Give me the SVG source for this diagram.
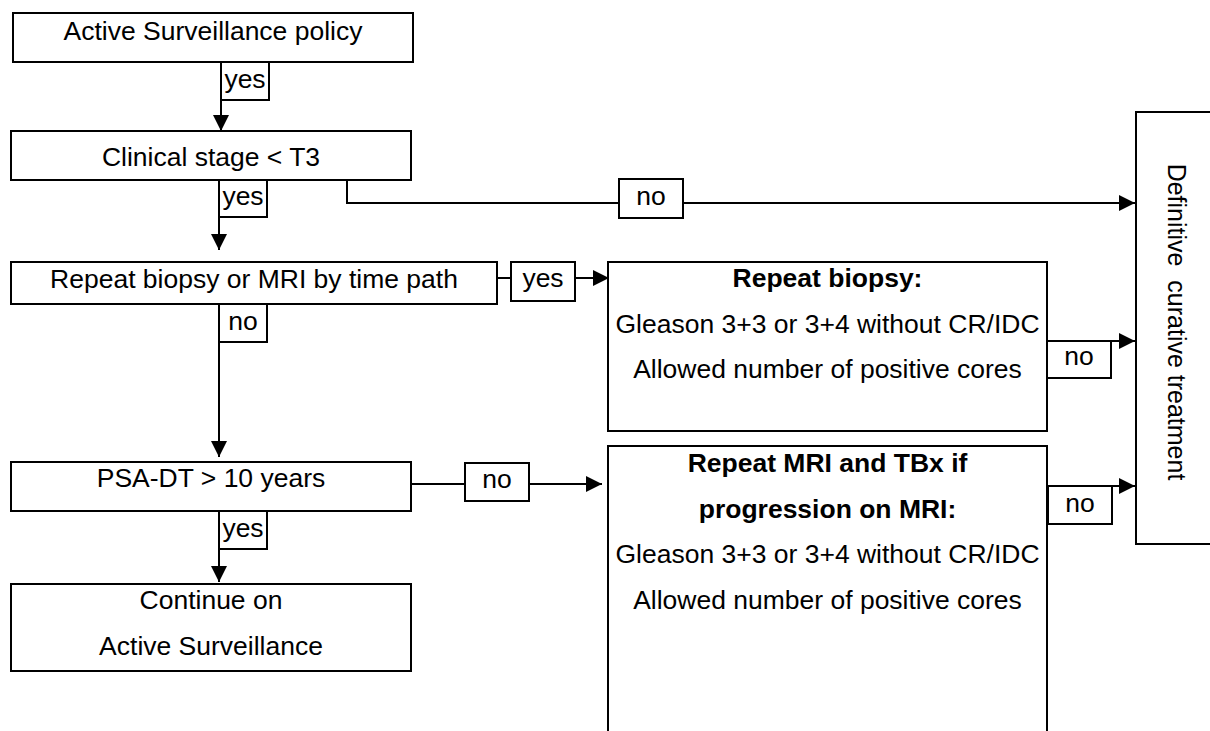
<svg xmlns="http://www.w3.org/2000/svg" width="1210" height="731" viewBox="0 0 1210 731">
<defs>
<style>
.box{fill:#fff;stroke:#000;stroke-width:2}
.lbl{fill:#fff;stroke:#000;stroke-width:2}
.ln{fill:none;stroke:#000;stroke-width:2}
text{font-family:"Liberation Sans",Arial,sans-serif;font-size:25px;fill:#000;text-anchor:middle}
.b{font-weight:bold}
</style>
<marker id="arr" markerUnits="userSpaceOnUse" markerWidth="16" markerHeight="16" refX="16" refY="8" orient="auto">
<path d="M0,0 L16,8 L0,16 z" fill="#000"/>
</marker>
</defs>
<rect width="1210" height="731" fill="#fff"/>

<g id="connectors">
<line class="ln" x1="221" y1="62" x2="221" y2="131" marker-end="url(#arr)"/>
<line class="ln" x1="219" y1="180" x2="219" y2="250" marker-end="url(#arr)"/>
<polyline class="ln" points="347,180 347,203 1135,203" marker-end="url(#arr)"/>
<line class="ln" x1="497" y1="278" x2="609" y2="278" marker-end="url(#arr)"/>
<line class="ln" x1="219" y1="304" x2="219" y2="457" marker-end="url(#arr)"/>
<line class="ln" x1="411" y1="484" x2="602" y2="484" marker-end="url(#arr)"/>
<line class="ln" x1="219" y1="511" x2="219" y2="582" marker-end="url(#arr)"/>
<line class="ln" x1="1047" y1="341" x2="1135" y2="341" marker-end="url(#arr)"/>
<line class="ln" x1="1047" y1="486" x2="1135" y2="486" marker-end="url(#arr)"/>
<g id="labels">
<rect class="lbl" x="221" y="62" width="48" height="38"/>
<text transform="translate(245 88) scale(1.06 1)">yes</text>
<rect class="lbl" x="219" y="180" width="48" height="37"/>
<text transform="translate(243 205) scale(1.06 1)">yes</text>
<rect class="lbl" x="619" y="179" width="64" height="39"/>
<text transform="translate(651 205) scale(1.06 1)">no</text>
<rect class="lbl" x="511" y="262" width="64" height="39"/>
<text transform="translate(543 287) scale(1.06 1)">yes</text>
<rect class="lbl" x="219" y="304" width="48" height="38"/>
<text transform="translate(243 330) scale(1.06 1)">no</text>
<rect class="lbl" x="465" y="463" width="64" height="38"/>
<text transform="translate(497 488) scale(1.06 1)">no</text>
<rect class="lbl" x="219" y="511" width="48" height="38"/>
<text transform="translate(243 537) scale(1.06 1)">yes</text>
<rect class="lbl" x="1047" y="341" width="64" height="37"/>
<text transform="translate(1079 365) scale(1.06 1)">no</text>
<rect class="lbl" x="1048" y="486" width="64" height="38"/>
<text transform="translate(1080 512) scale(1.06 1)">no</text>
</g>
</g>

<g id="as-policy">
<rect class="box" x="13" y="13" width="400" height="49"/>
<text transform="translate(213 40) scale(1.06 1)">Active Surveillance policy</text>
</g>
<g id="clinical-stage">
<rect class="box" x="11" y="131" width="400" height="49"/>
<text transform="translate(211 166) scale(1.06 1)">Clinical stage &lt; T3</text>
</g>
<g id="repeat-by-time">
<rect class="box" x="11" y="262" width="486" height="42"/>
<text transform="translate(254 288) scale(1.06 1)">Repeat biopsy or MRI by time path</text>
</g>
<g id="psa-dt">
<rect class="box" x="11" y="462" width="400" height="49"/>
<text transform="translate(211 487) scale(1.06 1)">PSA-DT &gt; 10 years</text>
</g>
<g id="continue-as">
<rect class="box" x="11" y="584" width="400" height="87"/>
<text transform="translate(211 609) scale(1.06 1)">Continue on</text>
<text transform="translate(211 655) scale(1.06 1)">Active Surveillance</text>
</g>
<g id="repeat-biopsy">
<rect class="box" x="608" y="262" width="439" height="169"/>
<text class="b" transform="translate(827.5 287) scale(1.06 1)">Repeat biopsy:</text>
<text transform="translate(827.5 333) scale(1.06 1)">Gleason 3+3 or 3+4 without CR/IDC</text>
<text transform="translate(827.5 378) scale(1.06 1)">Allowed number of positive cores</text>
</g>
<g id="repeat-mri">
<rect class="box" x="608" y="446" width="439" height="300"/>
<text class="b" transform="translate(827.5 472) scale(1.06 1)">Repeat MRI and TBx if</text>
<text class="b" transform="translate(827.5 518) scale(1.06 1)">progression on MRI:</text>
<text transform="translate(827.5 563) scale(1.06 1)">Gleason 3+3 or 3+4 without CR/IDC</text>
<text transform="translate(827.5 609) scale(1.06 1)">Allowed number of positive cores</text>
</g>
<g id="definitive-treatment">
<rect class="box" x="1136" y="112" width="100" height="432"/>
<text xml:space="preserve" transform="translate(1168 322) scale(1.06 1) rotate(90)">Definitive  curative treatment</text>
</g>
</svg>
